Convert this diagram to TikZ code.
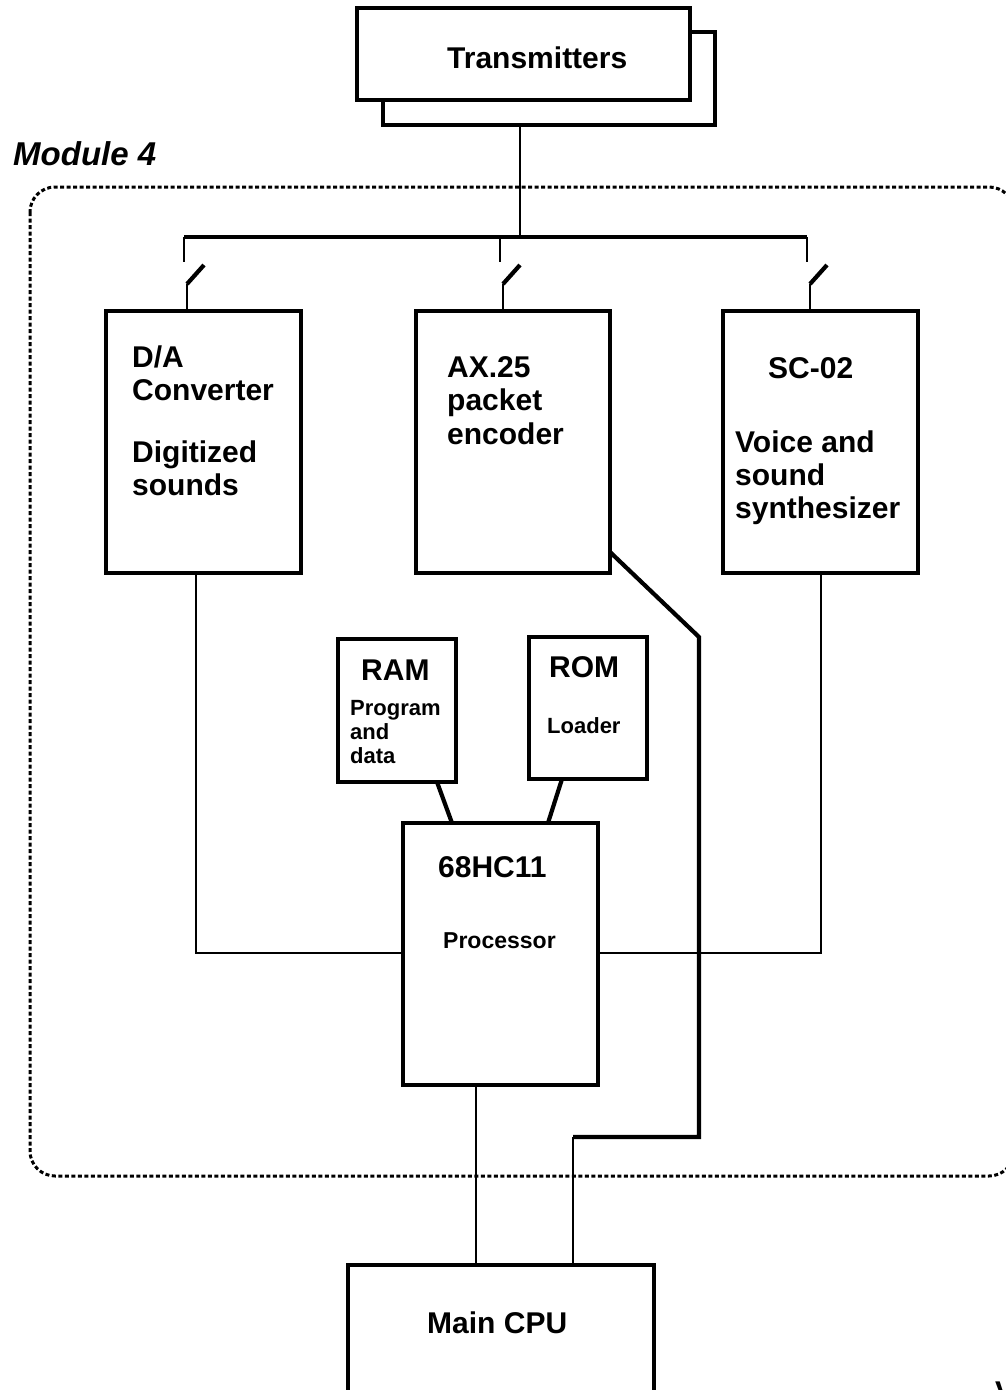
\documentclass[tikz,border=0pt]{standalone}
\usepackage{fontspec}
\setmainfont{Liberation Sans}
\usetikzlibrary{fit}
\begin{document}
\begin{tikzpicture}[x=1pt,y=-1pt,
  box/.style={draw, line width=3.2pt, fill=white, inner sep=0pt},
  wire/.style={line width=2.8pt, line join=miter},
  heavy/.style={line width=4.2pt, line join=miter},
  big/.style={font=\bfseries\fontsize{30}{36}\selectfont, inner sep=0pt, anchor=base west},
  small/.style={font=\bfseries\fontsize{22}{26}\selectfont, inner sep=0pt, anchor=base west},
  modborder/.style={line width=3pt, dash pattern=on 4pt off 2.5pt, rounded corners=25pt}
]
\useasboundingbox (0,0) rectangle (1005,1390);

% module border
\draw[modborder] (30,187) rectangle (1014,1176);
\node[font=\bfseries\itshape\fontsize{33}{38}\selectfont, inner sep=0pt, anchor=base west] (modlabel) at (13,165) {Module 4};

% transmitters
\node[box, fit={(383,32) (715,125)}] (tx2) {};
\node[box, fit={(357,8) (690,100)}] (tx1) {};
\node[big] (txt) at (447,68) {Transmitters};

% boxes
\node[box, fit={(106,311) (301,573)}] (da) {};
\node[box, fit={(416,311) (610,573)}] (ax) {};
\node[box, fit={(723,311) (918,573)}] (sc) {};
\node[box, fit={(338,639) (456,782)}] (ram) {};
\node[box, fit={(529,637) (647,779)}] (rom) {};
\node[box, fit={(403,823) (598,1085)}] (proc) {};
\node[box, fit={(348,1265) (654,1400)}] (cpu) {};

% texts
\node[big] (t1) at (132,367) {D/A};
\node[big] (t2) at (132,400) {Converter};
\node[big] (t3) at (132,462) {Digitized};
\node[big] (t4) at (132,495) {sounds};
\node[big] (t5) at (447,377) {AX.25};
\node[big] (t6) at (447,410) {packet};
\node[big] (t7) at (447,444) {encoder};
\node[big] (t8) at (768,378) {SC-02};
\node[big] (t9) at (735,452) {Voice and};
\node[big] (t10) at (735,485) {sound};
\node[big] (t11) at (735,518) {synthesizer};
\node[big] (t12) at (361,680) {RAM};
\node[small] (t13) at (350,715) {Program};
\node[small] (t14) at (350,739) {and};
\node[small] (t15) at (350,763) {data};
\node[big] (t16) at (549,677) {ROM};
\node[small] (t17) at (547,733) {Loader};
\node[big] (t18) at (438,877) {68HC11};
\node[font=\bfseries\fontsize{23}{27}\selectfont, inner sep=0pt, anchor=base west] (t19) at (443,948) {Processor};
\node[big] (t20) at (427,1333) {Main CPU};
\node[big] (t21) at (995,1402) {V};

% bus and switches
\coordinate (bj) at (520,237);
\coordinate (b1) at (184,237);
\coordinate (b2) at (500,237);
\coordinate (b3) at (807,237);
\draw[wire] (tx2.south -| bj) -- (bj);
\draw[heavy] (b1) -- (b3);
\foreach \n/\x/\bx in {1/184/da, 2/500/ax, 3/807/sc}{
  \coordinate (d\n) at (\x,262);
  \coordinate (s\n) at (\x+3,284);
  \coordinate (e\n) at (\x+20,265);
  \coordinate (k\n) at (\x+3,311);
  \draw[wire] (b\n) -- (d\n);
  \draw[heavy] (s\n) -- (e\n);
  \draw[wire] (s\n) -- (k\n);
}

% D/A to processor
\coordinate (dab) at (196,573);
\coordinate (dac) at (196,953);
\draw[wire] (dab) -- (dac) -- (proc.west |- dac);
% SC-02 to processor
\coordinate (scb) at (821,573);
\coordinate (scc) at (821,953);
\draw[wire] (scb) -- (scc) -- (proc.east |- scc);
% RAM / ROM
\coordinate (ra) at (437,782);
\coordinate (rb) at (452,823);
\draw[heavy] (ra) -- (rb);
\coordinate (oa) at (562,779);
\coordinate (ob) at (548,823);
\draw[heavy] (oa) -- (ob);
% AX.25 to main CPU
\coordinate (a1) at (610,552);
\coordinate (a2) at (699,637);
\coordinate (a3) at (699,1137);
\coordinate (a4) at (573,1137);
\coordinate (a5) at (573,1265);
\draw[heavy] (a1) -- (a2) -- (a3) -- (a4);
\draw[wire] (a4) -- (a5);
% processor to CPU
\coordinate (p1) at (476,1085);
\coordinate (p2) at (476,1265);
\draw[wire] (p1) -- (p2);
\end{tikzpicture}
\end{document}
